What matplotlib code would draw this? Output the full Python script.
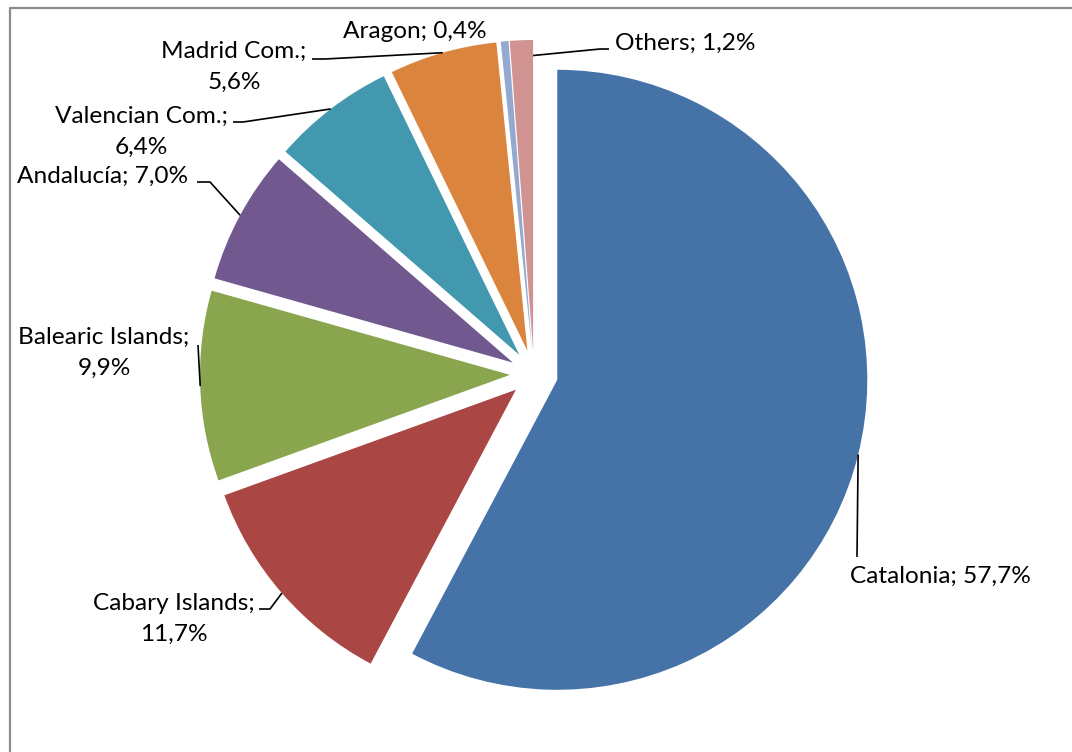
import numpy as np
import matplotlib
matplotlib.use("Agg")
import matplotlib.pyplot as plt

# ---- data ----
regions = ["Catalonia", "Cabary Islands", "Balearic Islands", "Andalucía",
           "Valencian Com.", "Madrid Com.", "Aragon", "Others"]
shares = [57.7, 11.7, 9.9, 7.0, 6.4, 5.6, 0.4, 1.2]
share_labels = ["57,7%", "11,7%", "9,9%", "7,0%", "6,4%", "5,6%", "0,4%", "1,2%"]
colors = ["#4572A7", "#AA4643", "#89A54E", "#71588F",
          "#4198AF", "#DB843D", "#93A9CF", "#D19392"]

# ---- layout (image pixel coords, y down) ----
W, H = 1072, 752
def Y(y):
    return H - y

label_layout = {
    "Catalonia":        dict(x=850, y=576, ha="left",   two=False),
    "Cabary Islands":   dict(x=174, y=619, ha="center", two=True),
    "Balearic Islands": dict(x=104, y=353, ha="center", two=True),
    "Andalucía":        dict(x=103, y=176, ha="center", two=False),
    "Valencian Com.":   dict(x=141, y=132, ha="center", two=True),
    "Madrid Com.":      dict(x=234, y=67,  ha="center", two=True),
    "Aragon":           dict(x=415, y=31,  ha="center", two=False),
    "Others":           dict(x=615, y=43,  ha="left",   two=False),
}
leader_layout = {
    "Catalonia":        dict(anchor=(0.5, 1.0), pts=[(857, 557)]),
    "Cabary Islands":   dict(anchor=(0.5, 1.0), pts=[(270, 609), (259, 609)]),
    "Balearic Islands": dict(anchor=(0.5, 1.0), pts=[(198, 345)]),
    "Andalucía":        dict(anchor=(0.5, 1.0), pts=[(210, 182), (197, 182)]),
    "Valencian Com.":   dict(anchor=(0.5, 1.0), pts=[(243, 122), (233, 122)]),
    "Madrid Com.":      dict(anchor=(0.5, 1.0), pts=[(325, 59), (312, 59)]),
    "Others":           dict(anchor=(0.0, 0.95), pts=[(600, 49), (609, 49)]),
}

plt.rcParams['font.family'] = ['Lato', 'DejaVu Sans']

fig = plt.figure(figsize=(W / 100, H / 100), dpi=100)
ax = fig.add_axes([0, 0, 1, 1])

radius = 310
explode = [24] * len(shares)   # data units (pixels)
wedges, _ = ax.pie(shares, colors=colors, startangle=90, counterclock=False,
                   explode=explode, radius=radius, center=(534, Y(374)),
                   wedgeprops=dict(linewidth=0), frame=True)
ax.set_xlim(0, W)
ax.set_ylim(0, H)
ax.set_aspect("equal")
ax.axis("off")

for w, name, pct in zip(wedges, regions, share_labels):
    lay = label_layout[name]
    txt = f"{name};\n{pct}" if lay["two"] else f"{name}; {pct}"
    ax.text(lay["x"], Y(lay["y"]), txt, ha=lay["ha"], va="center",
            multialignment="center", fontsize=17.6, color="black", linespacing=1.55)
    if name in leader_layout:
        ll = leader_layout[name]
        f, rf = ll["anchor"]
        th = np.deg2rad(w.theta1 + f * (w.theta2 - w.theta1))
        cx, cy = w.center
        ax0 = cx + rf * w.r * np.cos(th)
        ay0 = cy + rf * w.r * np.sin(th)
        xs = [ax0] + [p[0] for p in ll["pts"]]
        ys = [ay0] + [Y(p[1]) for p in ll["pts"]]
        ax.plot(xs, ys, color="black", lw=1.2, solid_capstyle="butt")

# outer chart border (top and left visible)
ax.plot([10, 10, W + 5], [-5, Y(8), Y(8)], color="#8C8C8C", lw=1.6, clip_on=False)

fig.savefig("out.png", dpi=100)
